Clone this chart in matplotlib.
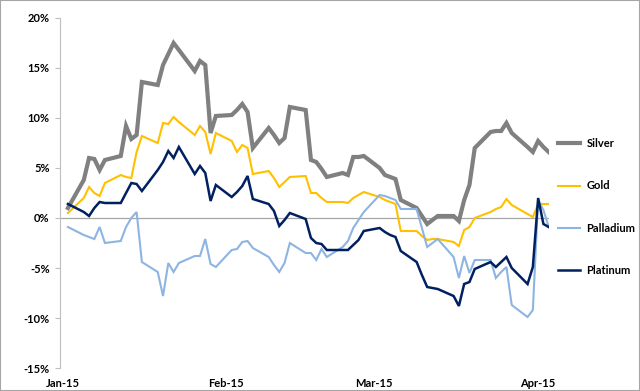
"""Precious metals YTD performance chart (Jan - Apr 2015)."""

import matplotlib

matplotlib.use("Agg")  # Non-interactive backend
import matplotlib.dates as mdates
import matplotlib.pyplot as plt
import pandas as pd
from matplotlib.patches import Rectangle
from matplotlib.ticker import MultipleLocator, PercentFormatter

# Daily % change since start of year, one value per business day (Jan 2 - Apr 3)
dates = pd.bdate_range("2015-01-02", "2015-04-03")

silver = [
    1.0, 3.8, 6.0, 5.9, 4.8, 5.8, 6.2, 9.2, 7.9, 8.3, 13.6, 13.3, 15.3, 16.4, 17.5, 16.8, 14.7, 15.7, 15.3, 8.5, 10.2,
    10.3, 10.8, 11.4, 10.6, 7.0, 9.0, 8.3, 7.5, 8.0, 11.1, 10.8, 5.8, 5.6, 4.9, 4.1, 4.5, 4.3, 6.1, 6.1, 6.2,
    5.0, 4.3, 4.1, 3.9, 1.8, 1.0, 0.2, -0.6, -0.2, 0.2, 0.2, -0.3, 1.8, 3.3, 7.0, 8.6, 8.7, 8.7, 9.5, 8.5, 7.1, 6.6,
    7.7, 7.1, 6.6,
]
gold = [
    0.5, 2.0, 3.1, 2.5, 2.2, 3.5, 4.3, 4.1, 4.0, 6.6, 8.2, 7.5, 9.5, 9.4, 10.1, 9.6, 8.3, 9.2, 8.6, 6.4, 8.5,
    7.7, 6.6, 7.3, 7.0, 4.4, 4.7, 4.0, 3.1, 3.6, 4.1, 4.2, 2.5, 2.5, 2.0, 1.6, 1.6, 1.5, 2.0, 2.3, 2.6,
    2.1, 1.8, 1.6, 1.4, -1.3, -1.3, -1.8, -2.2, -2.1, -2.1, -2.4, -2.8, -1.2, -0.9, 0.0, 0.6, 0.9, 1.1, 1.9, 1.3, 0.4, 0.1,
    1.4, 1.4, 1.4,
]
palladium = [
    -0.9, -1.7, -1.9, -2.1, -0.9, -2.5, -2.3, -0.9, 0.0, 0.6, -4.4, -5.4, -7.8, -4.5, -5.4, -4.5, -3.8, -3.8, -2.1, -4.6, -4.9,
    -3.2, -3.1, -2.4, -2.3, -3.0, -3.9, -4.7, -5.4, -4.5, -2.5, -3.5, -3.5, -4.2, -3.1, -3.9, -2.9, -2.3, -1.0, -0.2, 0.6,
    2.3, 2.2, 2.0, 1.8, 0.9, 0.9, -1.0, -2.9, -2.5, -2.1, -3.9, -6.0, -3.8, -5.5, -4.2, -4.2, -6.0, -5.4, -4.9, -8.7, -9.9, -9.2,
    1.8, 0.8, -0.9,
]
platinum = [
    1.4, 0.6, 0.2, 1.0, 1.6, 1.5, 1.5, 2.5, 3.5, 3.4, 2.7, 4.8, 5.6, 6.7, 6.0, 7.1, 4.4, 5.2, 4.5, 1.7, 3.3,
    2.1, 2.6, 3.2, 4.2, 1.9, 1.4, 0.7, -0.8, -0.2, 0.5, -0.1, -2.0, -2.5, -2.6, -3.2, -3.2, -3.2, -2.7, -2.2, -1.3,
    -1.0, -1.4, -1.7, -1.9, -3.3, -4.4, -5.7, -6.9, -7.0, -7.1, -7.8, -8.8, -6.6, -6.4, -5.1, -4.4, -4.9, -4.4, -3.9, -5.0, -6.6, -4.9,
    2.0, -0.6, -0.9,
]

series_names = ["Silver", "Gold", "Palladium", "Platinum"]
series_values = [silver, gold, palladium, platinum]
series_colors = ["#808080", "#FFC000", "#8DB4E2", "#002060"]
series_widths = [3.0, 1.5, 1.5, 1.8]

plt.rcParams["font.family"] = ["Lato", "DejaVu Sans"]
plt.rcParams["axes.unicode_minus"] = False

fig = plt.figure(figsize=(6.4, 3.91), dpi=100)
ax = fig.add_axes([0.09375, 0.0588, 0.7636, 0.8952])

for name, vals, color, lw in zip(series_names, series_values, series_colors, series_widths):
    ax.plot(dates, vals, color=color, linewidth=lw, label=name, solid_joinstyle="miter")

# Category axis crosses at 0%
ax.axhline(0, color="#A6A6A6", linewidth=0.9, zorder=0)

ax.set_ylim(-15, 20)
ax.yaxis.set_major_locator(MultipleLocator(5))
ax.yaxis.set_major_formatter(PercentFormatter(decimals=0))
ax.set_xlim(pd.Timestamp("2014-12-31 12:00"), pd.Timestamp("2015-04-03"))
ax.xaxis.set_major_locator(mdates.MonthLocator())
ax.xaxis.set_major_formatter(mdates.DateFormatter("%b-%y"))

for side in ("top", "right", "bottom"):
    ax.spines[side].set_visible(False)
ax.spines["left"].set_color("#BFBFBF")
ax.tick_params(axis="y", direction="out", length=3.5, color="#BFBFBF", pad=4, labelsize=8)
ax.tick_params(axis="x", length=0, pad=7, labelsize=8)
for lbl in ax.get_xticklabels() + ax.get_yticklabels():
    lbl.set_fontweight("bold")

leg = fig.legend(
    loc="upper left",
    bbox_to_anchor=(0.872, 0.647),
    frameon=False,
    fontsize=8,
    handlelength=2.0,
    handletextpad=0.55,
    labelspacing=2.83,
    borderpad=0,
    borderaxespad=0,
)
for txt in leg.get_texts():
    txt.set_fontweight("bold")

# Thin grey border round the whole chart
fig.patches.append(
    Rectangle((0, 0), 1, 1, transform=fig.transFigure, fill=False, edgecolor="#A6A6A6", linewidth=1.5)
)

fig.savefig("out.png", dpi=100)
plt.close(fig)
